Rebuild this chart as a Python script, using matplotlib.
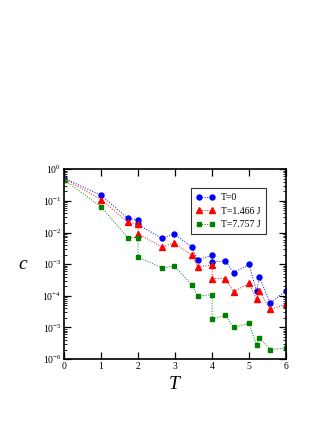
import matplotlib
matplotlib.use('Agg')
import matplotlib.pyplot as plt
from matplotlib.ticker import LogLocator, FixedLocator

plt.rcParams['font.family'] = ['Liberation Serif', 'DejaVu Serif']
plt.rcParams['mathtext.fontset'] = 'custom'
plt.rcParams['mathtext.rm'] = 'Liberation Serif'
plt.rcParams['mathtext.it'] = 'Liberation Serif:italic'

# time steps (shared by all curves)
t = [0, 1, 1.72, 2, 2, 2.64, 2.98, 3.45, 3.61, 4, 4, 4.36, 4.58, 5, 5.2, 5.28, 5.57, 6]
c_t0 = [0.52, 0.15, 0.028, 0.025, 0.018, 0.0065, 0.0089, 0.0035, 0.0014, 0.0019, 0.0012,
        0.00126, 0.00054, 0.00098, 0.00014, 0.00038, 6.0e-5, 0.000145]
c_t1 = [0.50, 0.11, 0.021, 0.019, 0.0093, 0.0035, 0.0047, 0.0019, 0.00083, 0.00093, 0.00035,
        0.00035, 0.000134, 0.00025, 7.7e-5, 0.00014, 3.7e-5, 5.5e-5]
c_t2 = [0.46, 0.065, 0.0069, 0.0069, 0.0017, 0.00076, 0.00087, 0.00022, 9.8e-5, 0.00011, 1.9e-5,
        2.4e-5, 1.0e-5, 1.35e-5, 2.8e-6, 4.7e-6, 2.0e-6, 2.2e-6]
labels = ['T=0', 'T=1.466 J', 'T=7.757 J']

fig = plt.figure(figsize=(3.27, 4.23), dpi=100)
ax = fig.add_axes([0.196, 0.151, 0.679, 0.449])

ax.plot(t, c_t0, color='#0000ff', ls=':', lw=0.7, marker='o', ms=3.6, mec='#0000ff', label=labels[0])
ax.plot(t, c_t1, color='#ff0000', ls=':', lw=0.7, marker='^', ms=4, mec='#ff0000', label=labels[1])
ax.plot(t, c_t2, color='#008000', ls=':', lw=0.7, marker='s', ms=2.8, mec='#008000', label=labels[2])

ax.set_yscale('log')
ax.set_xlim(0, 6)
ax.set_ylim(1e-6, 1)
ax.xaxis.set_major_locator(FixedLocator([0, 1, 2, 3, 4, 5, 6]))
ax.yaxis.set_major_locator(LogLocator(base=10, numticks=10))
ax.yaxis.set_minor_locator(LogLocator(base=10, subs=range(2, 10), numticks=10))
ax.tick_params(which='both', direction='in', top=True, right=True, labelsize=7, pad=2)
ax.tick_params(which='major', length=5, width=0.9)
ax.tick_params(which='minor', length=2.5, width=0.6)
for s in ax.spines.values():
    s.set_linewidth(1.2)

ax.set_xlabel('$T$', fontsize=14, labelpad=4)
ax.set_ylabel('$c$', fontsize=14, rotation=0, labelpad=14, va='center')

leg = ax.legend(loc='upper right', bbox_to_anchor=(0.93, 0.925), fontsize=7, numpoints=2,
                frameon=True, fancybox=False, edgecolor='black', handlelength=2.0,
                borderpad=0.5, labelspacing=0.45, handletextpad=0.6)
leg.get_frame().set_linewidth(0.8)

fig.savefig('out.png', dpi=100)
